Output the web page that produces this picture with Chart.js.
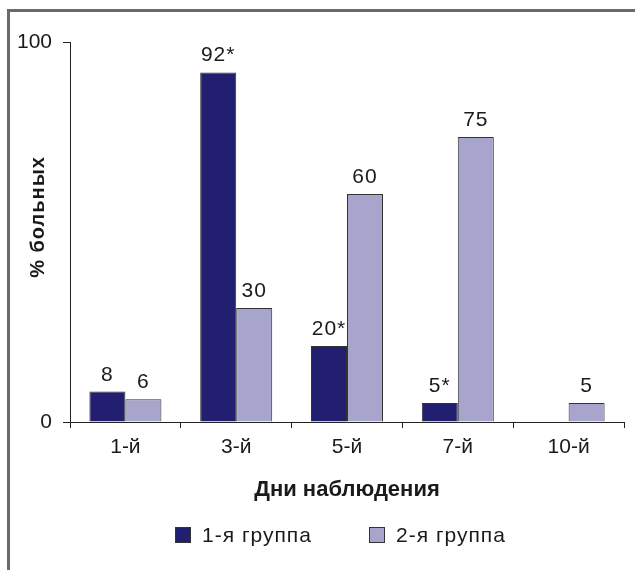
<!DOCTYPE html>
<html>
<head>
<meta charset="utf-8">
<script src="https://cdn.jsdelivr.net/npm/chart.js@4/dist/chart.umd.min.js"></script>
<style>
  html, body { margin: 0; padding: 0; background: #fff; }
  #wrap { position: relative; width: 635px; height: 570px; }
  #frame { position: absolute; left: 7px; top: 9px; right: 0; bottom: 0; border-left: 3px solid #6a6a6a; border-top: 3px solid #6a6a6a; pointer-events: none; }
  canvas { position: absolute; left: 0; top: 0; }
</style>
</head>
<body>
<div id="wrap">
  <canvas id="c" width="635" height="570"></canvas>
  <div id="frame"></div>
</div>
<script>
const categories = ['1-й', '3-й', '5-й', '7-й', '10-й'];
const group1Values = [8, 92, 20, 5, null];
const group2Values = [6, 30, 60, 75, 5];
const group1Labels = ['8', '92*', '20*', '5*', ''];
const group2Labels = ['6', '30', '60', '75', '5'];
const seriesNames = ['1-я группа', '2-я группа'];
const yTicks = [0, 100];
const xTitle = 'Дни наблюдения';
const yTitle = '% больных';

const FONT = '"Liberation Sans", Arial, Helvetica, sans-serif';
const FS = 21;
const valueLabels = [group1Labels, group2Labels];

const canvas = document.getElementById('c');
const ctx0 = canvas.getContext('2d');
ctx0.letterSpacing = '1px';

const labelPlugin = {
  id: 'labels',
  beforeInit(chart) { chart.ctx.letterSpacing = '1px'; },
  afterDatasetsDraw(chart) {
    const ctx = chart.ctx;
    ctx.save();
    ctx.letterSpacing = '1px';
    ctx.fillStyle = '#1a1a1a';
    ctx.font = FS + 'px ' + FONT;
    ctx.textAlign = 'center';
    ctx.textBaseline = 'alphabetic';
    chart.data.datasets.forEach((ds, di) => {
      const meta = chart.getDatasetMeta(di);
      meta.data.forEach((bar, i) => {
        const txt = valueLabels[di][i];
        if (!txt || ds.data[i] == null) return;
        ctx.fillText(txt, bar.x, bar.y - 11);
      });
    });
    // y axis title
    ctx.save();
    ctx.font = 'bold 20px ' + FONT;
    ctx.translate(38, 217);
    ctx.rotate(-Math.PI / 2);
    ctx.textBaseline = 'middle';
    ctx.fillText(yTitle, 0, 0);
    ctx.restore();
    // legend
    ctx.font = FS + 'px ' + FONT;
    ctx.textAlign = 'left';
    ctx.textBaseline = 'middle';
    const legendX = [175, 369];
    const ly = 535;
    chart.data.datasets.forEach((ds, di) => {
      const x = legendX[di];
      ctx.fillStyle = ds.backgroundColor;
      ctx.fillRect(x, ly - 8, 16, 16);
      ctx.strokeStyle = '#333';
      ctx.lineWidth = 1;
      ctx.strokeRect(x + 0.5, ly - 7.5, 15, 15);
      ctx.fillStyle = '#1a1a1a';
      ctx.fillText(ds.label, x + 27, ly + 1);
    });
    ctx.restore();
  }
};

new Chart(canvas, {
  type: 'bar',
  data: {
    labels: categories,
    datasets: [
      { label: seriesNames[0], data: group1Values, backgroundColor: '#221f70', borderColor: '#333', borderWidth: 1 },
      { label: seriesNames[1], data: group2Values, backgroundColor: '#a8a5cd', borderColor: '#333', borderWidth: 1 }
    ]
  },
  options: {
    responsive: false,
    animation: false,
    layout: { padding: { left: 8, top: 42, right: 11, bottom: 0 } },
    datasets: { bar: { categoryPercentage: 0.65, barPercentage: 1.0 } },
    plugins: { legend: { display: false }, tooltip: { enabled: false } },
    scales: {
      x: {
        grid: { offset: true, drawOnChartArea: false, drawTicks: true, tickLength: 6, color: '#222' },
        border: { display: true, color: '#222', width: 1 },
        ticks: { color: '#1a1a1a', font: { family: FONT, size: FS }, padding: 7 },
        title: { display: true, text: xTitle, color: '#1a1a1a', font: { family: FONT, size: 22, weight: 'bold' }, padding: { top: 0, bottom: 67 } },
        afterFit(scale) { scale.height = 148; }
      },
      y: {
        min: 0, max: 100,
        afterBuildTicks(scale) { scale.ticks = yTicks.map(v => ({ value: v })); },
        grid: { drawOnChartArea: false, drawTicks: true, tickLength: 7, color: '#222' },
        border: { display: true, color: '#222', width: 1 },
        ticks: { color: '#1a1a1a', font: { family: FONT, size: FS }, padding: 11 },
        afterFit(scale) { scale.width = 62; }
      }
    }
  },
  plugins: [labelPlugin]
});
</script>
</body>
</html>
